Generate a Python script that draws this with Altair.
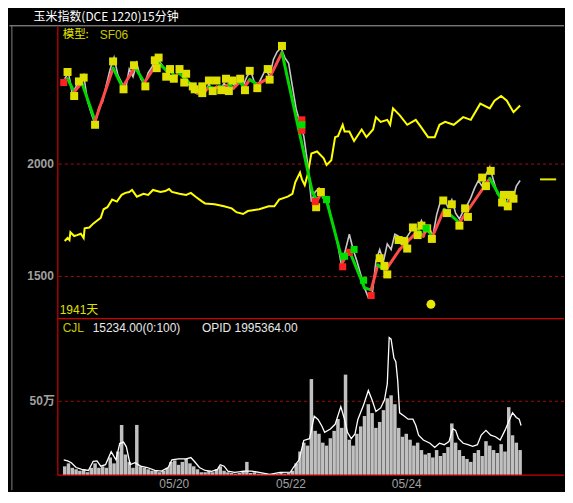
import altair as alt
import pandas as pd

# ---------------- text ----------------
TITLE = "玉米指数(DCE 1220)15分钟"
MODEL_LABEL = "模型:"
MODEL_NAME = "SF06"
DAYS_LABEL = "1941天"
VOL_NAME = "CJL"
VOL_INFO = "15234.00(0:100)"
OI_INFO = "OPID 1995364.00"

DATE_LABELS = ["05/20", "05/22", "05/24"]
DATE_T = [117, 240, 362]
PRICE_TICKS = [1500, 2000]
VOL_TICKS = [50]          # in 万

# ---------------- price (15 min closes), time index t ----------------
T = list(range(2, 483, 4))
PRICE = [2380, 2406, 2312, 2346, 2372, 2397, 2282, 2226, 2175, 2252,
         2278, 2355, 2423, 2474, 2397, 2363, 2329, 2423, 2389, 2449,
         2380, 2355, 2406, 2432, 2474, 2457, 2432, 2406, 2432, 2380,
         2415, 2389, 2372, 2346, 2321, 2312, 2338, 2321, 2355, 2329,
         2346, 2333, 2359, 2338, 2363, 2346, 2372, 2346, 2389, 2415,
         2363, 2355, 2389, 2423, 2389, 2466, 2500, 2517, 2474, 2449,
         2346, 2244, 2184, 2124, 2004, 1833, 1876, 1893, 1850, 1855,
         1774, 1714, 1637, 1543, 1620, 1688, 1620, 1568, 1509, 1449,
         1406, 1415, 1568, 1620, 1568, 1645, 1620, 1688, 1679, 1637,
         1671, 1697, 1722, 1705, 1748, 1705, 1722, 1679, 1774, 1833,
         1842, 1808, 1842, 1782, 1756, 1791, 1816, 1850, 1893, 1927,
         1902, 1953, 1987, 1927, 1868, 1850, 1808, 1850, 1842, 1902,
         1927]

VOLUME = [6, 8, 5, 4, 3, 4, 2, 5, 8, 5,
          6, 5, 12, 8, 16, 34, 14, 9, 5, 34,
          6, 5, 4, 3, 3, 2, 3, 5, 9, 10,
          7, 9, 11, 8, 6, 4, 2, 2, 3, 2,
          4, 6, 3, 2, 1.5, 1, 1.5, 3, 9, 1.5,
          2, 1, 1, 1, 0.8, 0.8, 1, 2, 1, 1.5,
          3, 8, 16, 22, 20, 65, 30, 28, 22, 20,
          25, 30, 38, 32, 68, 24, 20, 28, 33, 40,
          48, 42, 32, 36, 44, 52, 54, 48, 32, 26,
          28, 24, 20, 22, 17, 14, 15, 12, 17, 13,
          15, 19, 35, 22, 17, 13, 11, 9, 15, 17,
          13, 23, 20, 17, 15, 21, 16, 46, 27, 22,
          17]

# volume moving average (white line)
VMA_T = [1, 5, 9, 14, 20, 27, 32, 36, 40, 45, 51, 56, 60, 64, 67, 71, 76, 82, 89, 97,
         104, 111, 115, 122, 130, 135, 139, 144, 150, 157, 163, 166, 170, 174, 181, 192,
         199, 207, 218, 229, 240, 243, 249, 254, 260, 265, 269, 273, 276, 282, 287, 293,
         297, 300, 304, 308, 311, 317, 322, 326, 330, 335, 339, 342, 344, 346, 349, 351,
         353, 355, 359, 364, 369, 372, 375, 380, 387, 392, 397, 402, 407, 411, 414, 417,
         422, 427, 432, 437, 441, 446, 451, 456, 461, 466, 471, 474, 478, 481, 483]
VMA_V = [10.4, 9.7, 8.4, 5.2, 3.9, 3.2, 9.4, 9.7, 6.1, 7.1, 15.9, 10.4, 21.4, 22.4, 19.2,
         7.1, 8.4, 6.1, 5.2, 3.2, 2.8, 5.2, 10.4, 11.0, 11.0, 11.9, 9.1, 5.2, 3.2, 2.6,
         3.9, 7.1, 6.1, 2.8, 1.9, 2.8, 2.8, 1.9, 0.6, 1.9, 2.1, 5.2, 10.4, 23.5, 24.7,
         39.9, 37.7, 33.3, 29.0, 31.2, 34.4, 46.4, 37.7, 29.0, 24.7, 27.9, 37.7, 47.4,
         57.3, 50.8, 43.1, 45.5, 50.8, 61.7, 93.1, 92.0, 79.2, 76.8, 63.8, 42.2, 40.3,
         37.9, 37.9, 33.8, 27.1, 23.8, 21.6, 18.8, 21.6, 20.6, 22.7, 31.4, 30.3, 24.9,
         21.6, 20.6, 19.5, 20.6, 27.1, 30.3, 27.1, 26.0, 23.8, 30.3, 37.9, 42.2, 39.0,
         37.9, 33.6]

# yellow indicator line
YL_T = [2, 5, 7, 8, 12, 15, 19, 22, 23, 28, 32, 36, 40, 43, 47, 52, 57, 62, 66, 70, 73,
        78, 85, 90, 95, 103, 108, 112, 115, 123, 130, 135, 140, 147, 150, 160, 170, 178,
        183, 190, 195, 207, 217, 223, 228, 237, 242, 245, 250, 252, 255, 258, 262, 268,
        275, 278, 283, 287, 290, 295, 297, 302, 307, 315, 320, 327, 330, 335, 342, 345,
        348, 355, 363, 372, 378, 385, 392, 397, 403, 412, 422, 430, 440, 450, 455, 462,
        468, 475, 482]
YL_P = [1658, 1671, 1662, 1697, 1680, 1684, 1690, 1671, 1714, 1718, 1735, 1748, 1761, 1799,
        1808, 1842, 1833, 1863, 1872, 1876, 1885, 1855, 1868, 1863, 1885, 1876, 1880, 1889,
        1876, 1868, 1863, 1872, 1855, 1833, 1825, 1821, 1812, 1803, 1786, 1778, 1791, 1799,
        1812, 1812, 1842, 1855, 1868, 1919, 1962, 1932, 1906, 1953, 2047, 2056, 2026, 1996,
        2017, 2120, 2124, 2175, 2145, 2145, 2103, 2154, 2120, 2154, 2209, 2188, 2197, 2175,
        2248, 2218, 2175, 2197, 2162, 2120, 2120, 2175, 2188, 2175, 2209, 2197, 2269, 2248,
        2282, 2303, 2282, 2231, 2261]

# zigzag (model) pivots
ZZ_T = [1, 5, 12, 20, 34, 53, 63, 76, 86, 100, 110, 113, 118, 122, 127, 137, 142, 147,
        150, 154, 160, 165, 170, 175, 180, 186, 192, 197, 205, 218, 231, 263, 268, 272,
        278, 295, 302, 318, 325, 332, 340, 355, 362, 375, 380, 384, 389, 402, 418, 450,
        462, 470, 475]
ZZ_P = [2368, 2380, 2321, 2363, 2192, 2427, 2342, 2432, 2363, 2453, 2415, 2423, 2389, 2406,
        2389, 2346, 2316, 2338, 2325, 2342, 2338, 2346, 2342, 2355, 2338, 2363, 2346, 2376,
        2355, 2385, 2496, 1876, 1838, 1868, 1838, 1564, 1615, 1449, 1440, 1551, 1526, 1620,
        1650, 1705, 1679, 1722, 1671, 1799, 1739, 1936, 1846, 1825, 1872]

# signal markers
MK_T = [5, 12, 17, 22, 34, 53, 64, 75, 87, 97, 99, 101, 109, 113, 117, 123, 130, 128, 137,
        139, 147, 147, 154, 158, 162, 167, 172, 175, 179, 187, 192, 197, 205, 216, 218, 231,
        267, 272, 334, 339, 342, 354, 360, 363, 369, 374, 378, 384, 389, 401, 405, 410, 418,
        424, 427, 442, 446, 451, 465, 463, 469, 473, 475]
MK_P = [2410, 2303, 2368, 2385, 2175, 2457, 2333, 2440, 2346, 2462, 2427, 2474, 2389, 2423,
        2380, 2423, 2402, 2363, 2346, 2333, 2346, 2316, 2372, 2325, 2372, 2329, 2380, 2325,
        2372, 2380, 2329, 2415, 2338, 2423, 2376, 2526, 1808, 1876, 1581, 1547, 1509, 1662,
        1658, 1624, 1718, 1684, 1726, 1714, 1667, 1838, 1782, 1821, 1726, 1803, 1765, 1940,
        1902, 1970, 1863, 1829, 1812, 1863, 1846]
RED_T = [1, 252, 252, 266, 295, 302, 325]
RED_P = [2363, 2197, 2150, 1833, 1543, 1607, 1415]
GRN_T = [252, 278, 297, 307, 317, 383]
GRN_P = [2175, 1842, 1590, 1620, 1483, 1714]

DOT_T = [388]
DOT_P = [1376]
LAST_T = [503, 520]
LAST_P = 1932

# ---------------- layout ----------------
W, H = 508, 450
SEP_Y = 292.9
XS = alt.Scale(domain=[0, 523], nice=False, zero=False)
PS = alt.Scale(domain=[615.4, 2611.1], nice=False, zero=False)
VS = alt.Scale(domain=[0, 303.25], nice=False, zero=False)

label_expr = " : ".join(
    f"datum.value == {t} ? '{s}'" for t, s in zip(DATE_T[:-1], DATE_LABELS[:-1])
) + f" : '{DATE_LABELS[-1]}'"
XAX = alt.Axis(values=DATE_T, labelExpr=label_expr, domain=False, ticks=False, grid=False,
               labelColor="#a0a0a0", labelFont="Liberation Sans", labelFontSize=12,
               labelPadding=3, title=None, labelFlush=False, zindex=2)


def X(f):
    return alt.X(f, type="quantitative", scale=XS, axis=XAX)


def YP(f):
    return alt.Y(f, type="quantitative", scale=PS, axis=None)


def YV(f):
    return alt.Y(f, type="quantitative", scale=VS, axis=None, stack=None)


one = pd.DataFrame({"a": [0]})

price_df = pd.DataFrame({"t": T, "p": PRICE, "v": VOLUME})
vma_df = pd.DataFrame({"t": VMA_T, "v": VMA_V})
yl_df = pd.DataFrame({"t": YL_T, "p": YL_P})
zz = pd.DataFrame({"t1": ZZ_T[:-1], "p1": ZZ_P[:-1], "t2": ZZ_T[1:], "p2": ZZ_P[1:]})
zz["dir"] = ["up" if b > a else "down" for a, b in zip(zz["p1"], zz["p2"])]
mk_df = pd.DataFrame({"t": MK_T, "p": MK_P})
red_df = pd.DataFrame({"t": RED_T, "p": RED_P})
grn_df = pd.DataFrame({"t": GRN_T, "p": GRN_P})
dot_df = pd.DataFrame({"t": DOT_T, "p": DOT_P})
last_df = pd.DataFrame({"t1": [LAST_T[0]], "t2": [LAST_T[1]], "p": [LAST_P]})

layers = []

# background / bounds
layers.append(alt.Chart(one).mark_rect(color="#000000").encode(
    x=alt.value(-48.6), x2=alt.value(W), y=alt.value(-17.4), y2=alt.value(H + 15)))
# window lines
layers.append(alt.Chart(one).mark_rule(color="#a8a8a8", strokeWidth=1).encode(
    x=alt.value(-48.6), x2=alt.value(W), y=alt.value(-1)))
layers.append(alt.Chart(one).mark_rule(color="#808080", strokeWidth=1).encode(
    x=alt.value(-46.1), y=alt.value(-1), y2=alt.value(H + 15)))

# grid lines
grid_p = pd.DataFrame({"p": PRICE_TICKS, "txt": [str(v) for v in PRICE_TICKS]})
grid_v = pd.DataFrame({"v": VOL_TICKS, "txt": [f"{v}万" for v in VOL_TICKS]})
layers.append(alt.Chart(grid_p).mark_rule(color="#a01010", strokeDash=[3, 3], strokeWidth=1)
              .encode(y=YP("p")))
layers.append(alt.Chart(grid_v).mark_rule(color="#a01010", strokeDash=[3, 3], strokeWidth=1)
              .encode(y=YV("v")))
layers.append(alt.Chart(grid_p).mark_text(align="right", baseline="middle", dx=-4,
              color="#a0a0a0", font="Liberation Sans", fontSize=12, fontWeight="bold")
              .encode(x=alt.value(0), y=YP("p"), text="txt:N"))
layers.append(alt.Chart(grid_v).mark_text(align="right", baseline="middle", dx=-3,
              color="#a0a0a0", font="Liberation Sans, Noto Sans CJK SC", fontSize=12,
              fontWeight="bold")
              .encode(x=alt.value(0), y=YV("v"), text="txt:N"))

# volume
layers.append(alt.Chart(price_df).mark_bar(size=3.5, color="#c0c0c0").encode(
    x=X("t"), y=YV("v")))
layers.append(alt.Chart(vma_df).mark_line(color="#ffffff", strokeWidth=1.3).encode(
    x=X("t"), y=YV("v")))

# red frame
layers.append(alt.Chart(one).mark_rule(color="#d00000", strokeWidth=1.2).encode(
    x=alt.value(0), y=alt.value(-1), y2=alt.value(H)))
layers.append(alt.Chart(one).mark_rule(color="#d00000", strokeWidth=1.2).encode(
    x=alt.value(0), x2=alt.value(W), y=alt.value(SEP_Y)))
layers.append(alt.Chart(one).mark_rule(color="#d00000", strokeWidth=1.2).encode(
    x=alt.value(0), x2=alt.value(W), y=alt.value(H)))

# price chart
layers.append(alt.Chart(yl_df).mark_line(color="#ffff00", strokeWidth=2).encode(
    x=X("t"), y=YP("p")))
layers.append(alt.Chart(price_df).mark_line(color="#c8c8c8", strokeWidth=1.6).encode(
    x=X("t"), y=YP("p")))
layers.append(alt.Chart(zz).mark_rule(strokeWidth=3, strokeCap="round").encode(
    x=X("t1"), x2="t2", y=YP("p1"), y2="p2",
    color=alt.Color("dir:N", scale=alt.Scale(domain=["up", "down"],
                                             range=["#ff4a4a", "#00d800"]), legend=None)))
layers.append(alt.Chart(mk_df).mark_square(size=64, color="#e0e000", opacity=1).encode(
    x=X("t"), y=YP("p")))
layers.append(alt.Chart(red_df).mark_square(size=50, color="#ff2020", opacity=1).encode(
    x=X("t"), y=YP("p")))
layers.append(alt.Chart(grn_df).mark_square(size=50, color="#00e000", opacity=1).encode(
    x=X("t"), y=YP("p")))
layers.append(alt.Chart(dot_df).mark_circle(size=80, color="#e8e800", opacity=1).encode(
    x=X("t"), y=YP("p")))
layers.append(alt.Chart(last_df).mark_rule(color="#e8e800", strokeWidth=2).encode(
    x=X("t1"), x2="t2", y=YP("p")))

# texts
def txt(s, x, y, color, size=12, font="Liberation Sans, Noto Sans CJK SC"):
    return alt.Chart(pd.DataFrame({"s": [s]})).mark_text(
        align="left", baseline="middle", color=color, fontSize=size, font=font
    ).encode(x=alt.value(x), y=alt.value(y), text="s:N")

layers.append(txt(TITLE, -24.3, -10.2, "#ffffff", 12, "Noto Sans CJK SC"))
layers.append(txt(MODEL_LABEL, 4.9, 8.0, "#e6e600", 11.5, "Noto Sans CJK SC"))
layers.append(txt(MODEL_NAME, 42.0, 8.0, "#c8c800", 12))
layers.append(txt(DAYS_LABEL, 1.9, 284.3, "#e0e000", 12))
layers.append(txt(VOL_NAME, 4.9, 302.6, "#c8c800", 12))
layers.append(txt(VOL_INFO, 35.0, 302.6, "#e8e8e8", 12))
layers.append(txt(OI_INFO, 144.7, 302.6, "#e8e8e8", 12))

chart = alt.layer(*layers).resolve_scale(y="independent").properties(
    width=W, height=H, padding=0, background="#000000"
).configure_view(strokeWidth=0)

chart.save("out.html", embed_options={"renderer": "svg", "actions": False})
